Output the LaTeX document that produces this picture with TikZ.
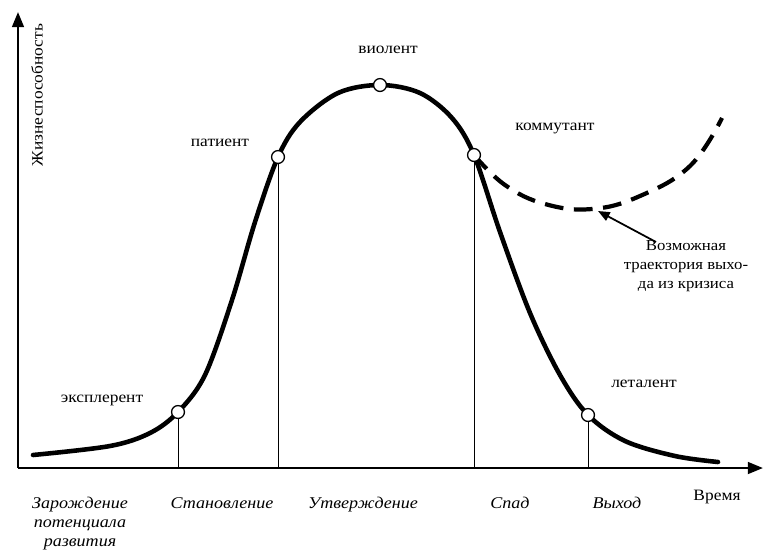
\documentclass[tikz,border=0pt]{standalone}
\usepackage{fontspec}
\setmainfont{Liberation Serif}[FakeStretch=1.1]
\usetikzlibrary{arrows.meta}
\begin{document}
\begin{tikzpicture}[x=0.03cm,y=-0.03cm,
  axisline/.style={line width=2.2pt,-{Triangle[length=13pt,width=10pt]}},
  mainline/.style={line width=3.9pt,line cap=round},
  dashline/.style={line width=3.6pt,dash pattern=on 16pt off 9pt},
  thin/.style={line width=0.8pt},
  dot/.style={circle,draw,line width=1.1pt,fill=white,minimum size=11pt,inner sep=0pt},
  lab/.style={font=\fontsize{13.5}{15}\selectfont},
  notelab/.style={font=\fontsize{13}{16}\selectfont,align=center,inner sep=1pt},
  phase/.style={font=\itshape\fontsize{14}{16.2}\selectfont,align=center},
  pointer/.style={line width=1.5pt,-{Triangle[length=10pt,width=8pt]}}]
\useasboundingbox (0,0) rectangle (768,553);
% axes
\coordinate (O) at (18,468);
\coordinate (ytop) at (18,12);
\coordinate (xend) at (763,468);
\draw[axisline] (O) -- (ytop);
\draw[axisline] (O) -- (xend);
% points on curve
\coordinate (p1) at (178,412);
\coordinate (p2) at (278,157);
\coordinate (p3) at (380,85);
\coordinate (p4) at (474,155);
\coordinate (p5) at (588,415);
% vertical thin lines
\foreach \p/\x in {p1/178,p2/278,p4/474,p5/588}
  \draw[thin] (\p) -- (\x,468);
% dashed trajectory
\draw[dashline] plot[smooth,tension=0.7] coordinates {(474,155) (505,185) (545,204) (592,209) (640,196) (690,166) (722,118)};
% main curve
\draw[mainline] plot[smooth,tension=0.55] coordinates {(33,455) (110,446) (150,433) (178,412) (205,375) (232,300) (255,222) (278,157) (300,122) (338,93) (380,85) (420,93) (452,118) (474,155) (500,232) (530,313) (560,375) (588,415) (625,441) (675,456) (718,462)};
% circles
\node[dot] (c1) at (p1) {};
\node[dot] (c2) at (p2) {};
\node[dot] (c3) at (p3) {};
\node[dot] (c4) at (p4) {};
\node[dot] (c5) at (p5) {};
% labels
\node[lab] (l1) at (102,400) {эксплерент};
\node[lab] (l2) at (220,143) {патиент};
\node[lab] (l3) at (388,50) {виолент};
\node[lab] (l4) at (555,128) {коммутант};
\node[lab] (l5) at (644,384) {леталент};
\node[lab,rotate=90] (ylab) at (37,95) {Жизнеспособность};
\node[lab] (xlab) at (717,497) {Время};
% note
\node[notelab] (note) at (686,266) {Возможная\\траектория выхо-\\да из кризиса};
\coordinate (tip) at (598,211);
\draw[pointer] (656,242) -- (tip);
% phases
\node[phase,anchor=north] (f1) at (80,493) {Зарождение\\потенциала\\развития};
\node[phase,anchor=north] (f2) at (222,493) {Становление};
\node[phase,anchor=north] (f3) at (363,493) {Утверждение};
\node[phase,anchor=north] (f4) at (510,493) {Спад};
\node[phase,anchor=north] (f5) at (617,493) {Выход};
\end{tikzpicture}
\end{document}
